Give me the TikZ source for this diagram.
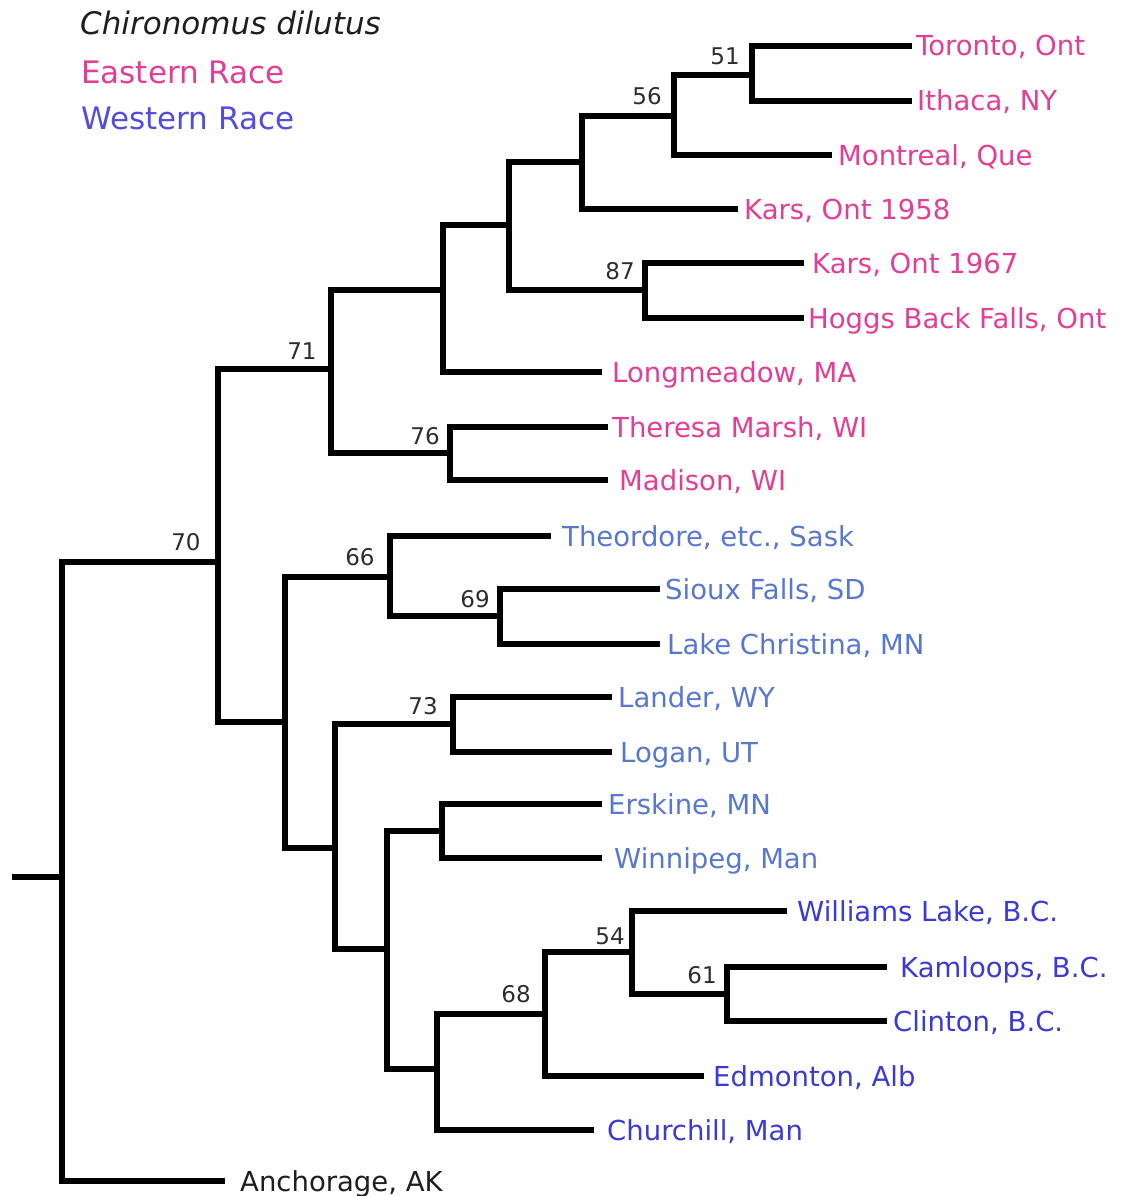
\documentclass[tikz,border=0pt]{standalone}
\usepackage{fontspec}
\setmainfont{DejaVu Sans}
\definecolor{eastc}{RGB}{226,62,150}
\definecolor{westl}{RGB}{88,120,208}
\definecolor{westd}{RGB}{58,58,212}
\definecolor{westleg}{RGB}{84,76,222}
\definecolor{inkc}{RGB}{30,30,30}
\definecolor{bootc}{RGB}{45,45,45}
\tikzset{
  branch/.style={draw=black, line width=5.4pt, line join=miter},
  leaf/.style={anchor=west, inner ysep=0pt, inner xsep=#1,
    text height=22pt, text depth=2pt,
    font=\fontsize{27.5}{30}\selectfont},
  leaf/.default=6pt,
  boot/.style={inner sep=0pt, text=bootc, font=\fontsize{23}{25}\selectfont},
  legend/.style={anchor=base west, inner sep=0pt, font=\fontsize{31}{34}\selectfont}
}
\begin{document}
\begin{tikzpicture}[x=1pt,y=-1pt]
\useasboundingbox (0,0) rectangle (1125,1196);

% legend
\node[legend, text=inkc, font=\fontsize{31}{34}\selectfont\itshape] (title) at (80,35) {Chironomus dilutus};
\node[legend, text=eastc] (east) at (81,84) {Eastern Race};
\node[legend, text=westleg] (west) at (81,130) {Western Race};

% terminal taxa (anchored at the end of their branch)
\node[leaf=4pt,  text=eastc] (tor) at (912,46)   {Toronto, Ont};
\node[leaf=5pt,  text=eastc] (ith) at (912,101)  {Ithaca, NY};
\node[leaf=6pt,  text=eastc] (mon) at (832,155)  {Montreal, Que};
\node[leaf=6pt,  text=eastc] (k58) at (738,209)  {Kars, Ont 1958};
\node[leaf=8pt,  text=eastc] (k67) at (804,263)  {Kars, Ont 1967};
\node[leaf=4pt,  text=eastc] (hog) at (804,318)  {Hoggs Back Falls, Ont};
\node[leaf=10pt, text=eastc] (lon) at (602,372)  {Longmeadow, MA};
\node[leaf=4pt,  text=eastc] (the) at (608,427)  {Theresa Marsh, WI};
\node[leaf=11pt, text=eastc] (mad) at (608,480)  {Madison, WI};
\node[leaf=11pt, text=westl] (teo) at (551,536)  {Theordore, etc., Sask};
\node[leaf=5pt,  text=westl] (sio) at (660,589)  {Sioux Falls, SD};
\node[leaf=7pt,  text=westl] (lak) at (660,644)  {Lake Christina, MN};
\node[leaf=6pt,  text=westl] (lan) at (612,697)  {Lander, WY};
\node[leaf=8pt,  text=westl] (log) at (612,752)  {Logan, UT};
\node[leaf=6pt,  text=westl] (ers) at (602,804)  {Erskine, MN};
\node[leaf=12pt, text=westl] (win) at (602,858)  {Winnipeg, Man};
\node[leaf=10pt, text=westd] (wil) at (787,911)  {Williams Lake, B.C.};
\node[leaf=13pt, text=westd] (kam) at (887,967)  {Kamloops, B.C.};
\node[leaf=6pt,  text=westd] (cli) at (887,1021) {Clinton, B.C.};
\node[leaf=9pt,  text=westd] (edm) at (704,1076) {Edmonton, Alb};
\node[leaf=13pt, text=westd] (chu) at (594,1130) {Churchill, Man};
\node[leaf=15pt, text=inkc]  (anc) at (225,1181) {Anchorage, AK};

% internal nodes
\coordinate (n51) at (752,75);
\coordinate (n56) at (674,116);
\coordinate (nk)  at (582,162);
\coordinate (n87) at (645,290);
\coordinate (nx)  at (509,225);
\coordinate (ny)  at (443,290);
\coordinate (n76) at (450,453);
\coordinate (n71) at (331,369);
\coordinate (n69) at (500,616);
\coordinate (n66) at (390,577);
\coordinate (n73) at (453,724);
\coordinate (ne)  at (442,831);
\coordinate (n61) at (727,994);
\coordinate (n54) at (632,952);
\coordinate (n68) at (545,1014);
\coordinate (nc)  at (437,1069);
\coordinate (nw)  at (387,949);
\coordinate (nl)  at (335,848);
\coordinate (nwe) at (285,722);
\coordinate (n70) at (218,562);
\coordinate (nr)  at (62,877);
\coordinate (stem) at (12,877);

% branches
\draw[branch] (n51) |- (tor.west);
\draw[branch] (n51) |- (ith.west);
\draw[branch] (n56) |- (n51);
\draw[branch] (n56) |- (mon.west);
\draw[branch] (nk) |- (n56);
\draw[branch] (nk) |- (k58.west);
\draw[branch] (n87) |- (k67.west);
\draw[branch] (n87) |- (hog.west);
\draw[branch] (nx) |- (nk);
\draw[branch] (nx) |- (n87);
\draw[branch] (ny) |- (nx);
\draw[branch] (ny) |- (lon.west);
\draw[branch] (n76) |- (the.west);
\draw[branch] (n76) |- (mad.west);
\draw[branch] (n71) |- (ny);
\draw[branch] (n71) |- (n76);
\draw[branch] (n69) |- (sio.west);
\draw[branch] (n69) |- (lak.west);
\draw[branch] (n66) |- (teo.west);
\draw[branch] (n66) |- (n69);
\draw[branch] (n73) |- (lan.west);
\draw[branch] (n73) |- (log.west);
\draw[branch] (ne) |- (ers.west);
\draw[branch] (ne) |- (win.west);
\draw[branch] (n61) |- (kam.west);
\draw[branch] (n61) |- (cli.west);
\draw[branch] (n54) |- (wil.west);
\draw[branch] (n54) |- (n61);
\draw[branch] (n68) |- (n54);
\draw[branch] (n68) |- (edm.west);
\draw[branch] (nc) |- (n68);
\draw[branch] (nc) |- (chu.west);
\draw[branch] (nw) |- (ne);
\draw[branch] (nw) |- (nc);
\draw[branch] (nl) |- (n73);
\draw[branch] (nl) |- (nw);
\draw[branch] (nwe) |- (n66);
\draw[branch] (nwe) |- (nl);
\draw[branch] (n70) |- (n71);
\draw[branch] (n70) |- (nwe);
\draw[branch] (nr) |- (n70);
\draw[branch] (nr) |- (anc.west);
\draw[branch] (stem) -- (nr);

% bootstrap support values
\node[boot] (b51) at (725,56)  {51};
\node[boot] (b56) at (647,96)  {56};
\node[boot] (b87) at (620,271) {87};
\node[boot] (b71) at (302,351) {71};
\node[boot] (b76) at (425,436) {76};
\node[boot] (b70) at (186,542) {70};
\node[boot] (b66) at (360,557) {66};
\node[boot] (b69) at (475,599) {69};
\node[boot] (b73) at (423,706) {73};
\node[boot] (b54) at (610,936) {54};
\node[boot] (b61) at (702,975) {61};
\node[boot] (b68) at (516,994) {68};
\end{tikzpicture}
\end{document}
